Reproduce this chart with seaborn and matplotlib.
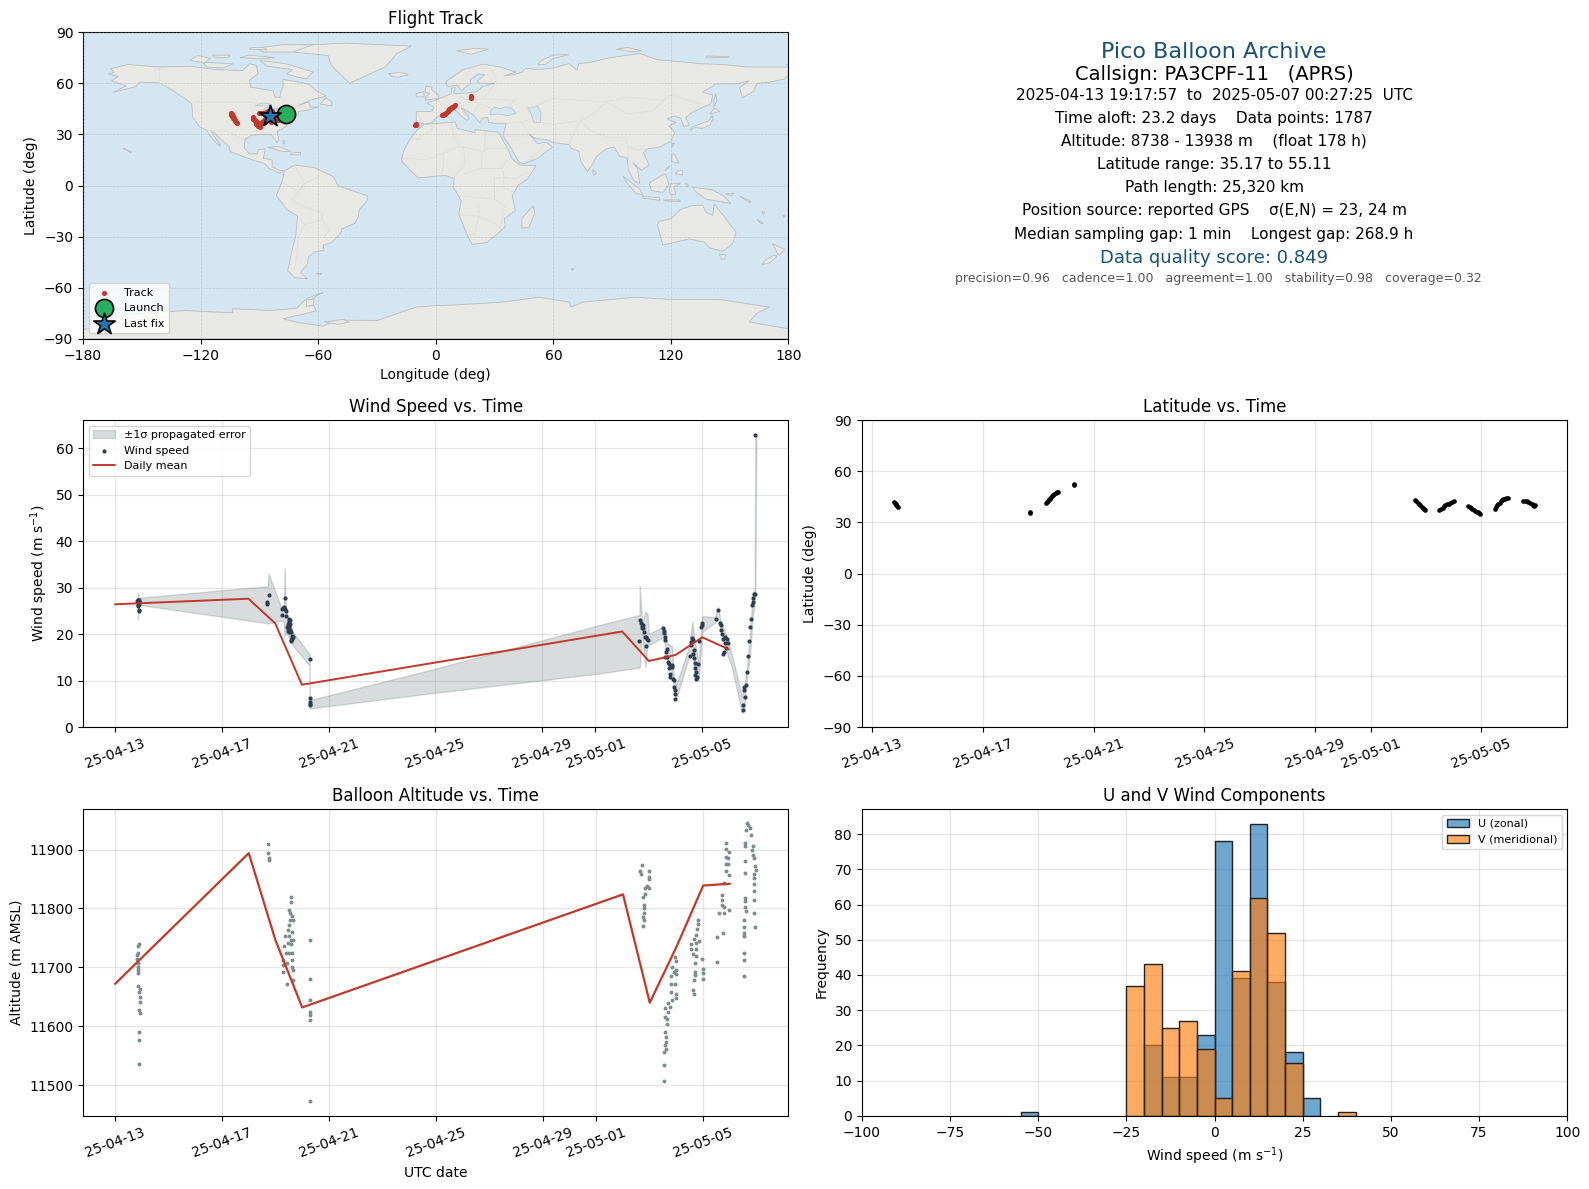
import matplotlib
matplotlib.use("Agg")
import matplotlib.pyplot as plt
import matplotlib.dates as mdates
import seaborn as sns
import numpy as np
import pandas as pd

# --- data, days counted from 2025-04-13 00:00 UTC ---
start = pd.Timestamp("2025-04-13")
tick_dates = ["2025-04-13", "2025-04-17", "2025-04-21", "2025-04-25", "2025-04-29", "2025-05-01", "2025-05-05"]

wind_points = [
    (0.84, 27.0), (0.85, 27.3), (0.87, 27.4), (0.89, 27.3), (0.90, 27.2), (0.86, 26.6), (0.88, 26.8), (0.85, 26.3),
    (0.87, 26.1), (0.89, 26.4), (0.90, 26.9), (0.91, 25.1), (0.90, 24.9),
    (5.75, 28.5), (5.71, 26.8), (5.71, 26.4),
    (6.35, 27.7), (6.29, 25.6), (6.27, 25.3), (6.33, 25.8), (6.36, 25.3), (6.42, 24.9), (6.27, 24.0), (6.40, 23.9),
    (6.50, 23.2), (6.52, 22.7), (6.54, 23.0), (6.48, 22.2), (6.50, 21.9), (6.53, 22.3), (6.55, 22.1), (6.46, 21.5),
    (6.49, 21.2), (6.52, 21.6), (6.56, 20.9), (6.47, 20.7), (6.50, 20.5), (6.58, 20.4), (6.64, 19.5), (6.66, 19.3),
    (6.62, 19.1), (6.60, 18.8), (6.61, 18.4), (6.63, 18.9),
    (7.29, 14.6), (7.29, 6.3), (7.29, 5.4), (7.29, 5.0), (7.29, 4.7),
    (19.67, 23.1), (19.72, 22.3), (19.75, 21.8), (19.73, 21.2), (19.77, 21.9), (19.79, 21.2), (19.81, 20.5),
    (19.87, 19.4), (19.97, 18.8), (19.93, 19.0), (19.90, 19.3), (19.63, 18.5), (19.90, 17.4),
    (20.52, 21.2), (20.56, 20.7), (20.58, 20.3), (20.61, 19.3), (20.61, 18.8),
    (20.68, 16.8), (20.65, 16.2), (20.62, 15.1), (20.68, 15.0), (20.72, 14.0), (20.75, 13.5), (20.85, 13.3),
    (20.77, 12.6), (20.87, 13.0), (20.78, 11.5), (20.81, 10.8), (20.89, 10.4), (20.93, 10.1), (20.94, 8.6),
    (20.97, 7.9), (20.99, 7.2), (20.99, 6.1),
    (21.63, 19.2), (21.59, 18.3), (21.66, 18.7), (21.58, 17.6), (21.68, 16.5), (21.65, 15.8), (21.55, 15.2),
    (21.68, 14.9), (21.72, 13.8), (21.84, 13.6), (21.74, 12.6), (21.78, 11.9), (21.74, 11.2), (21.76, 10.4),
    (21.80, 10.8), (21.89, 18.5), (22.00, 22.3), (21.94, 21.6), (22.00, 21.9),
    (22.52, 23.3), (22.59, 25.1), (22.68, 22.4), (22.72, 21.9), (22.72, 20.8), (22.74, 20.0), (22.77, 19.0),
    (22.87, 19.4), (22.93, 19.0), (22.97, 18.1), (22.84, 18.0), (22.89, 17.1), (22.80, 16.2), (22.78, 15.8),
    (23.53, 4.7), (23.53, 3.7), (23.61, 6.5), (23.57, 8.6), (23.58, 7.9), (23.64, 9.1), (23.68, 11.9), (23.71, 15.3),
    (23.75, 18.4), (23.79, 21.6), (23.83, 23.3), (23.86, 26.2), (23.89, 26.9), (23.91, 27.7), (23.93, 28.7),
    (23.96, 28.7), (23.99, 62.8),
]

# day, low, high of the propagated error band
band_points = [
    (0.84, 26.4, 27.9), (0.86, 23.1, 28.9), (0.88, 26.3, 27.8), (5.72, 22.3, 30.3), (5.75, 22.3, 33.0),
    (6.21, 22.9, 25.9), (6.32, 22.6, 25.9), (6.35, 19.4, 34.2), (6.40, 20.5, 25.0), (6.65, 17.6, 20.5),
    (7.27, 13.3, 15.8), (7.29, 13.3, 15.8), (7.30, 4.0, 5.8), (11.76, 7.2, 12.2), (18.13, 11.5, 21.9),
    (19.65, 12.8, 24.1), (19.66, 12.8, 30.3), (19.75, 20.1, 22.3), (19.87, 12.9, 24.8), (19.95, 18.0, 24.4),
    (20.00, 17.6, 20.1), (20.56, 19.4, 21.6), (20.68, 15.1, 18.0), (20.87, 11.5, 17.4), (20.93, 8.6, 10.8),
    (21.02, 6.0, 9.0), (21.49, 14.8, 17.0), (21.63, 16.5, 22.6), (21.74, 10.5, 17.5), (21.87, 10.0, 14.0),
    (22.00, 20.5, 23.9), (22.49, 22.5, 23.6), (22.59, 23.0, 25.9), (22.68, 21.0, 23.0), (22.93, 15.8, 19.4),
    (23.10, 13.0, 15.8), (23.49, 3.0, 6.5), (23.57, 4.0, 8.7), (23.68, 10.8, 12.9), (23.80, 16.0, 21.0),
    (23.89, 24.0, 29.0), (23.96, 26.0, 29.5), (23.99, 29.0, 63.0), (24.03, 62.7, 62.7),
]

wind_mean_day = [0, 5, 6, 7, 19, 20, 21, 22, 23]
wind_mean = [26.4, 27.6, 22.3, 9.1, 20.55, 14.2, 15.5, 19.3, 16.7]

alt_mean_day = [0, 5, 6, 7, 19, 20, 21, 22, 23]
alt_mean = [11672, 11894, 11746, 11632, 11824, 11640, 11735, 11839, 11842]

alt_points = [
    (0.90, 11739), (0.86, 11736), (0.85, 11725), (0.81, 11721), (0.83, 11714), (0.86, 11707), (0.86, 11701),
    (0.86, 11695), (0.86, 11691), (0.86, 11669), (0.93, 11664), (0.91, 11659), (0.93, 11650), (0.93, 11642),
    (0.88, 11627), (0.93, 11622), (0.88, 11590), (0.88, 11576), (0.88, 11536),
    (5.71, 11910), (5.71, 11895), (5.76, 11886), (5.76, 11882),
    (6.57, 11820), (6.57, 11811), (6.50, 11798), (6.55, 11792), (6.60, 11787), (6.55, 11780), (6.65, 11780),
    (6.52, 11772), (6.47, 11763), (6.62, 11760), (6.52, 11754), (6.37, 11754), (6.67, 11747), (6.57, 11746),
    (6.46, 11741), (6.58, 11739), (6.31, 11736), (6.50, 11724), (6.40, 11724), (6.62, 11724), (6.30, 11712),
    (6.62, 11712), (6.43, 11708), (6.30, 11704), (6.60, 11701), (6.28, 11693), (6.65, 11695), (6.65, 11679),
    (6.43, 11671),
    (7.28, 11746), (7.28, 11680), (7.28, 11644), (7.28, 11624), (7.28, 11619), (7.28, 11610), (7.28, 11473),
    (19.71, 11873), (19.63, 11864), (19.68, 11858), (19.96, 11863), (19.96, 11854), (19.98, 11850), (19.91, 11839),
    (19.83, 11835), (19.97, 11835), (19.81, 11824), (19.73, 11819), (19.77, 11806), (19.77, 11800), (19.80, 11792),
    (19.75, 11785), (19.79, 11780), (19.75, 11771),
    (20.94, 11718), (20.99, 11711), (20.85, 11701), (20.97, 11695), (20.90, 11692), (20.97, 11689), (20.81, 11686),
    (20.81, 11672), (20.93, 11672), (20.78, 11659), (20.99, 11654), (20.97, 11648), (20.85, 11645), (20.68, 11639),
    (20.58, 11631), (20.74, 11632), (20.68, 11624), (20.58, 11616), (20.65, 11612), (20.65, 11604), (20.58, 11591),
    (20.59, 11582), (20.59, 11574), (20.56, 11568), (20.60, 11561), (20.53, 11556), (20.53, 11534), (20.53, 11507),
    (21.82, 11780), (21.81, 11773), (21.77, 11766), (21.74, 11755), (21.84, 11745), (21.66, 11749), (21.56, 11740),
    (21.72, 11741), (21.56, 11732), (21.74, 11732), (21.60, 11723), (21.72, 11719), (21.68, 11707), (21.95, 11715),
    (21.70, 11693), (21.99, 11698), (21.69, 11687), (21.99, 11690), (21.66, 11678), (21.99, 11680), (21.63, 11662),
    (21.65, 11654),
    (22.85, 11912), (22.84, 11901), (22.96, 11896), (22.84, 11888), (22.94, 11886), (22.87, 11876), (22.93, 11876),
    (22.87, 11864), (22.96, 11857), (22.78, 11844), (22.70, 11823), (22.70, 11815), (22.70, 11806), (22.77, 11802),
    (22.97, 11797), (22.59, 11793), (22.77, 11793), (22.52, 11751), (22.74, 11758), (22.52, 11709),
    (23.64, 11945), (23.68, 11941), (23.74, 11936), (23.59, 11934), (23.79, 11925), (23.57, 11911), (23.57, 11906),
    (23.86, 11906), (23.83, 11900), (23.88, 11890), (23.91, 11885), (23.57, 11880), (23.95, 11872), (23.99, 11866),
    (23.57, 11861), (23.90, 11858), (23.90, 11851), (23.90, 11842), (23.90, 11830), (23.90, 11815), (23.58, 11818),
    (23.58, 11812), (23.58, 11803), (23.61, 11796), (23.91, 11792), (23.53, 11780), (23.53, 11769), (23.53, 11758),
    (23.53, 11753), (23.94, 11768), (23.53, 11725), (23.53, 11713), (23.53, 11686),
]

lat_points = [
    (0.78, 41.9), (0.81, 41.3), (0.84, 40.8), (0.87, 40.2), (0.90, 39.6), (0.94, 38.9),
    (5.70, 35.7), (5.71, 36.1),
    (6.26, 41.3), (6.30, 42.0), (6.34, 42.8), (6.38, 43.5), (6.42, 44.0), (6.46, 44.8), (6.50, 45.4), (6.54, 46.0),
    (6.58, 46.6), (6.62, 47.2), (6.66, 47.6), (6.70, 47.8),
    (7.28, 52.5), (7.29, 52.0),
    (19.60, 43.2), (19.65, 42.4), (19.70, 41.6), (19.75, 40.8), (19.80, 40.0), (19.85, 39.2), (19.90, 38.4),
    (19.94, 37.8), (19.97, 37.3),
    (20.49, 37.3), (20.55, 38.0), (20.60, 38.6), (20.65, 39.4), (20.70, 40.0), (20.76, 40.6), (20.82, 41.1),
    (20.88, 41.6), (20.94, 42.2), (21.00, 42.8),
    (21.53, 39.9), (21.58, 39.2), (21.63, 38.4), (21.68, 37.8), (21.73, 37.3), (21.78, 36.8), (21.83, 36.3),
    (21.88, 35.9), (21.92, 35.5), (21.96, 35.2),
    (22.50, 37.9), (22.54, 39.0), (22.58, 40.0), (22.62, 40.9), (22.66, 41.7), (22.70, 42.5), (22.75, 43.1),
    (22.80, 43.6), (22.85, 44.0), (22.90, 44.3), (22.96, 44.6),
    (23.52, 42.8), (23.58, 42.7), (23.64, 42.5), (23.70, 42.0), (23.76, 41.5), (23.82, 40.8), (23.88, 40.0),
    (23.92, 39.6), (23.95, 40.4),
]

track_points = [
    (-104.6, 42.4), (-104.3, 41.6), (-104.0, 42.0), (-103.8, 40.8), (-103.4, 40.6), (-103.3, 39.8), (-102.9, 39.6),
    (-102.8, 38.8), (-102.4, 38.6), (-102.2, 37.6), (-101.7, 37.4), (-101.6, 36.8),
    (-93.3, 40.1), (-93.3, 39.0), (-92.6, 39.2), (-92.4, 37.6), (-91.8, 38.0), (-91.6, 36.2), (-90.8, 36.5), (-90.5, 34.8),
    (-89.5, 34.4), (-89.3, 36.0), (-88.8, 37.4), (-88.2, 38.1), (-87.3, 37.2), (-90.2, 42.4), (-89.3, 42.4), (-88.0, 42.8),
    (-86.8, 43.2), (-85.8, 43.9), (-83.5, 43.9), (-82.5, 42.0), (-81.2, 39.1), (-80.5, 38.2), (-87.0, 39.0), (-84.0, 37.5),
    (-10.6, 35.6), (-10.3, 35.8), (-10.0, 35.5),
    (3.2, 41.1), (3.9, 41.5), (4.4, 41.9), (4.8, 42.0), (5.2, 42.8), (5.6, 43.0), (6.0, 43.7), (6.4, 44.0), (6.8, 44.6),
    (7.2, 44.8), (7.6, 45.4), (8.0, 45.6), (8.4, 46.0), (8.8, 46.2), (9.2, 46.8), (9.8, 47.1),
    (18.2, 51.6), (18.2, 52.2), (18.2, 52.8),
]
launch_lon, launch_lat = -76.5, 41.7
last_lon, last_lat = -84.7, 40.5

hist_edges = list(range(-55, 45, 5))
u_counts = [1, 0, 0, 0, 0, 0, 0, 20, 11, 11, 23, 78, 39, 83, 38, 18, 5, 0, 0]
v_counts = [0, 0, 0, 0, 0, 0, 37, 43, 25, 27, 19, 5, 41, 62, 52, 15, 0, 0, 1]

summary_lines = [
    ("Pico Balloon Archive", 16, "#1a5276", 51.9),
    ("Callsign: PA3CPF-11   (APRS)", 14, "black", 74.2),
    ("2025-04-13 19:17:57  to  2025-05-07 00:27:25  UTC", 11, "black", 95.4),
    ("Time aloft: 23.2 days    Data points: 1787", 11, "black", 118.7),
    ("Altitude: 8738 - 13938 m    (float 178 h)", 11, "black", 141.0),
    ("Latitude range: 35.17 to 55.11", 11, "black", 164.2),
    ("Path length: 25,320 km", 11, "black", 187.7),
    ("Position source: reported GPS    σ(E,N) = 23, 24 m", 11, "black", 211.0),
    ("Median sampling gap: 1 min    Longest gap: 268.9 h", 11, "black", 234.2),
    ("Data quality score: 0.849", 13, "#1a5276", 258.6),
    ("precision=0.96   cadence=1.00   agreement=1.00   stability=0.98   coverage=0.32", 9, "#555555", 278.9),
]

# coarse land outlines (lon, lat)
north_america = [
    (-167, 65.5), (-164, 66.5), (-166, 68.5), (-157, 71), (-141, 69.5), (-126, 70), (-112, 68), (-98.5, 67.5),
    (-95, 71.4), (-91.5, 70.5), (-90.7, 65.6), (-95, 61.7), (-94.4, 57.8), (-88, 56.5), (-83, 55.5), (-82, 52),
    (-79.6, 51.7), (-79, 55), (-77.9, 57.8), (-78, 62.3), (-70, 60.7), (-65, 59.5), (-60, 54.8), (-55.8, 52.5),
    (-64.3, 50), (-70, 47), (-65, 49), (-64, 46), (-60, 46), (-66, 44), (-70, 43.5), (-70, 41.5), (-74, 40.5),
    (-75.5, 37.5), (-76, 35), (-81, 31.5), (-80, 26.5), (-81, 25), (-82.7, 28), (-84, 30), (-89, 30), (-94, 29.5),
    (-97.3, 27), (-97.7, 22), (-95, 18.5), (-91, 18.7), (-90.5, 21), (-87, 21.5), (-88, 16), (-83.5, 15),
    (-83.5, 11), (-80, 9), (-77.3, 8.5), (-80, 7.3), (-85, 10), (-87.5, 13), (-92, 14.5), (-96, 16), (-105, 20),
    (-105.5, 23), (-110, 27.5), (-113, 31), (-114.7, 31.7), (-112, 27), (-109.5, 23), (-112, 25), (-115, 29),
    (-117, 32.5), (-120.5, 34.5), (-124, 40), (-124.5, 48), (-128, 50.9), (-133.2, 55), (-140.9, 60.2), (-151, 60.7),
    (-153, 58), (-164.7, 54.6), (-158, 58.5), (-165.5, 61.5), (-162, 64),
]
south_america = [
    (-77.3, 8.5), (-72, 12), (-62, 10.5), (-52, 5), (-50, 0), (-44, -2.5), (-34.9, -6), (-35, -9), (-39, -14),
    (-39.5, -18), (-41, -22), (-48, -25.5), (-48.5, -28), (-53.3, -33.5), (-57.5, -35), (-57, -38), (-62, -39),
    (-65, -42), (-65.5, -46), (-69, -51), (-65.5, -54.8), (-72, -54), (-75.5, -50), (-73.7, -40), (-71.5, -30), (-70.5, -18),
    (-76, -14), (-81.3, -6), (-80, -2), (-78.5, 2), (-77.5, 7),
]
africa = [
    (-6, 35.8), (10, 37.3), (11, 33.5), (20, 31), (20, 32.8), (32, 31.3), (33.5, 28), (37, 21), (39, 15.5), (43, 12),
    (51.1, 11.8), (47, 4), (42, 0), (39, -6), (40.6, -14.7), (35, -19.5), (35.5, -24), (32.4, -27.4), (26, -33.5), (18.5, -34.5),
    (15.4, -27.4), (11.7, -16.6), (13, -9), (8.8, -0.5), (9.5, 4), (5, 6), (-4, 5), (-9, 4.5), (-13, 9), (-17.6, 14.5),
    (-16.5, 20), (-13, 27.5), (-9.9, 32),
]
eurasia = [
    (-9.9, 37.2), (-6, 36), (-2, 36.8), (0, 39.5), (3.3, 42), (7, 43.5), (10.3, 44), (13, 41), (16, 38.2), (17, 40),
    (13, 45.5), (15, 44.5), (19.5, 41), (22.5, 36.8), (24, 39.5), (26.5, 40), (27, 37), (30.5, 36.4), (36, 36.5),
    (35, 32.4), (34.2, 28.5), (35, 28), (39, 21), (42.6, 13.5), (45, 12.8), (52, 16), (59.6, 22.6), (56.3, 25.5),
    (52, 24.5), (47.7, 30), (51, 27.5), (56.5, 27), (61, 25), (68, 24), (69, 22), (73, 20), (74, 14), (77.5, 8.2),
    (80, 12.5), (82, 17), (87, 21.5), (91, 22.6), (94, 17), (97.5, 16.5), (98.5, 8.5), (101, 3), (104, 1.3),
    (103, 9.9), (100.5, 13.5), (105, 9), (109, 12), (106, 19), (108, 21.5), (114, 22.5), (120, 26), (122, 31),
    (119, 35), (122.6, 37), (118, 39), (121.5, 40.8), (125, 39.5), (126.5, 34.7), (129.5, 35.5), (127.5, 40),
    (131, 43), (140.4, 48), (141.3, 53), (136, 54.8), (143, 59.5), (154, 59.7), (160, 61.5), (155, 57.5),
    (156.6, 51.5), (162, 55), (164, 60), (170, 60.5), (178, 62.5), (180, 65), (180, 69.5), (170, 69.5), (160, 69.5),
    (146, 71), (135, 71.5), (126, 72.5), (113, 73.8), (104, 77.5), (95, 76), (87, 74.5), (80, 72.5), (73, 71.5),
    (72, 67.5), (68, 71.5), (60, 69), (52, 68), (46, 68.8), (44, 66.5), (40, 65), (35, 64.5), (41, 66.5), (33, 69.5),
    (24, 71.2), (14, 68), (5.2, 61), (6, 58), (11, 59), (13, 55.5), (18, 60), (17.5, 62), (22, 65.5), (25, 65),
    (21, 61), (23, 60), (30, 60), (24, 58), (21, 55), (14, 54), (9, 54), (10, 57.5), (8, 57), (8, 54), (4, 52),
    (-1.5, 49.5), (-4.5, 48.5), (-1, 46), (-2, 43.5), (-9.9, 43.3),
]
australia = [
    (113.2, -23.4), (114, -21), (120, -19.5), (125, -14), (131, -11.7), (136.2, -11.5), (137.9, -15.6), (141.3, -17.6),
    (142.1, -10.9), (148.1, -19.5), (153.2, -27.4), (151.5, -34.2), (146.4, -38.6), (139.6, -36.5), (137, -33.2),
    (129.4, -31.3), (122.6, -33.2), (115.8, -34.8), (114, -27),
]
antarctica = [
    (-180, -84.2), (-176, -84), (-170, -80), (-160, -76), (-135.4, -73.9), (-127.3, -73.3), (-118.8, -73.9),
    (-103.5, -74.6), (-103.8, -72.3), (-95, -72.7), (-84.7, -73.3), (-76, -72.5), (-71, -72), (-68, -68.5), (-66, -66.5),
    (-62, -64.5), (-57.5, -62.9), (-60, -64), (-62.5, -66), (-64, -68), (-62, -71), (-60.9, -73.5), (-66, -75),
    (-77.9, -78.2), (-69.4, -80.5), (-57.5, -82.5), (-54, -80.5), (-45, -79), (-35.4, -79.1), (-29.5, -79.1),
    (-16.7, -73.9), (-9.9, -71.3), (0, -70.5), (10.3, -70), (34.1, -68.4), (52.8, -65.5), (68.1, -68.4), (69, -71.3),
    (75, -68.4), (102, -65.5), (119, -66.8), (144.7, -66.8), (170.2, -71.3), (163.4, -75.2), (160, -80.1), (180, -84),
    (180, -90), (-180, -90),
]
islands = [
    [(-72.8, 78.3), (-71, 82.2), (-45.6, 83.5), (-12.4, 81.8), (-20, 77.3), (-23.5, 72.4), (-26, 69.5), (-43.9, 60),
     (-49, 65.6), (-53.3, 70.5), (-55, 76.3)],
    [(-89.8, 73.4), (-76.2, 71.4), (-62.6, 66.6), (-66, 62.5), (-72, 64), (-76.2, 65.6), (-73, 68), (-86, 70)],
    [(-118.8, 72.4), (-103.5, 71.4), (-108.6, 68.9), (-117, 69.5)],
    [(-91.5, 80.6), (-78, 82.6), (-62.6, 82.6), (-72.8, 78.3), (-88, 78.3)],
    [(-125.6, 73.4), (-118, 72), (-115, 74.5), (-121.3, 76.3)],
    [(-100, 75), (-90, 74.5), (-82, 75), (-95, 76.5)],
    [(-112, 75), (-106, 75), (-105, 76.5), (-114, 76.5)],
    [(-95, 80), (-86, 79.5), (-88, 81), (-94, 81)],
    [(-59, 47.8), (-53, 46.8), (-53, 49), (-56, 51.5)],
    [(-85.6, 22.3), (-80, 23), (-74, 20), (-78, 20)],
    [(-74, 19), (-69, 19.5), (-69, 18), (-74, 18)],
    [(-5.5, 50), (1.5, 51.2), (1.5, 53), (-2, 56), (-2, 57.7), (-5, 58.5), (-5.5, 55), (-3, 54), (-5, 52)],
    [(-10, 52), (-6, 52), (-6, 55), (-10, 54)],
    [(-24, 65.5), (-18, 66.5), (-14, 65), (-19, 63.5), (-22.5, 64)],
    [(10.5, 79), (20, 80.5), (27, 80), (18, 77)],
    [(52, 71), (56, 71), (60, 74.5), (68, 76.8), (60, 76.5), (54, 73.5)],
    [(92, 80), (100, 78.5), (105, 79), (98, 81)],
    [(138, 75), (148, 75), (150, 75.5), (138, 76)],
    [(178, 71), (180, 71), (180, 71.5), (178, 71.5)],
    [(142, 46), (143.5, 50), (142.8, 54), (142, 50)],
    [(129.7, 32.4), (132, 34), (136, 33.5), (140, 35.5), (141.6, 39.5), (141, 41.2), (139.5, 38), (136, 36.5), (131, 34.5)],
    [(140, 42), (145, 43.5), (142, 45.5)],
    [(120.5, 22.5), (122, 25), (120.5, 24.5)],
    [(80, 9.5), (82, 7), (80.5, 6)],
    [(120.5, 18.5), (122, 18), (124, 13), (120.5, 14)],
    [(122, 7), (126, 6), (126, 9), (123.5, 8.5)],
    [(118, 10), (119.5, 11.5), (117, 8.5)],
    [(95.5, 5.5), (104, -2), (106, -5.8), (102, -4.5), (98, 1)],
    [(105.5, -6.5), (114, -7), (114.5, -8.7), (106, -7.5)],
    [(116, -8.5), (124, -8.5), (125, -9.5), (117, -9)],
    [(109, 1.5), (117, 7), (119, 1), (116, -4), (110, -3)],
    [(120, 1), (125, 1.5), (121.5, -1), (122.5, -5), (120, -5.5), (119, -3)],
    [(127.5, 1.5), (129, 0), (128, -1)],
    [(131, -1), (141, -2.5), (147, -6), (150.5, -10.5), (143, -9), (138, -8), (133, -4)],
    [(148, -5), (152, -4.5), (151, -6)],
    [(155, -6), (161, -9.5), (160, -10)],
    [(166.5, -15), (168, -16), (167, -17)],
    [(164, -20), (167, -22), (166, -22.5)],
    [(177.5, -17.5), (178.5, -18), (177.5, -18.5)],
    [(144.7, -40.4), (148, -40.4), (147.5, -43.2), (146, -43.2)],
    [(171.9, -34.2), (177.9, -37.5), (175.3, -41), (174, -39)],
    [(172.7, -40.7), (174, -41.7), (170.2, -45.5), (166.5, -46.3), (168.5, -43.5)],
    [(49.8, -12.1), (50.5, -16), (47.5, -24.7), (44, -25), (44, -19), (48, -14)],
    [(-61, -51.5), (-58, -51.5), (-59, -52.3)],
    [(69, -48.8), (70.5, -49), (69.5, -49.6)],
    [(-159.6, 21.8), (-155.3, 19.8), (-155.6, 19.2), (-158, 21)],
    [(-78, 26.5), (-77, 26), (-77.5, 24)],
    [(-66, -67.2), (-62, -66.4), (-62.5, -70), (-66, -71)],
    [(-57, -80), (-47, -78.5), (-44, -80), (-50, -81.5)],
]
lakes = [
    [(28, 41.5), (28, 44), (30, 46), (33, 45), (35, 46), (38, 46), (41, 42.5), (37, 41), (32, 42)],
    [(47, 45.5), (52, 46.5), (53.7, 43), (53.5, 37), (50, 37), (49, 41)],
    [(-92, 46.7), (-85, 46.8), (-85, 48), (-89, 48.5)],
    [(-88, 42), (-85.5, 42), (-85, 45.7), (-87.5, 45.5)],
    [(-84, 43.5), (-81.5, 43.5), (-80.5, 45), (-84, 46)],
    [(-83, 41.7), (-79, 42.7), (-79, 43), (-83, 42.5)],
]
borders = [
    [(-141, 69.7), (-141, 60), (-133, 56)], [(-123, 49), (-95, 49), (-84, 46), (-75, 45), (-67, 47)],
    [(-117, 32.5), (-106, 31.7), (-97, 26)], [(-92, 14.5), (-91, 18)], [(-72, 12), (-67, 1), (-70, -4), (-74, -8), (-70, -11), (-58, -16), (-58, -20), (-54, -26), (-57, -30), (-53.5, -34)],
    [(-78, 2), (-70, -4)], [(-60, 5), (-67, 1)], [(-70, -18), (-67, -23), (-70, -30), (-72, -50)], [(-67, -23), (-58, -20)],
    [(-13, 27.5), (-8, 27), (-8, 29), (-2, 32), (-2, 35)], [(8, 37), (9, 30), (12, 23), (25, 20), (25, 31.5)],
    [(25, 22), (37, 22)], [(-16.5, 16), (-5, 15), (4, 19), (12, 23)], [(4, 19), (4, 12), (3, 6.5)], [(14, 23), (15, 13), (9, 4.5)],
    [(24, 20), (23, 10), (15, 7)], [(23, 10), (34, 10), (36, 15)], [(34, 10), (35, 5), (41, 4), (47, 8)], [(30, 4), (30, -8), (12, -6)],
    [(30, 4), (35, 5), (34, -1), (40, -4)], [(22, -11), (22, -18), (12, -17)], [(22, -18), (20, -28), (17, -29)], [(30, -8), (35, -12), (33, -25)],
    [(22, -18), (30, -22), (33, -25)], [(28, 69), (31, 62), (28, 56), (24, 51), (40, 50), (38, 47)], [(48, 42), (47, 45), (60, 51), (87, 49), (98, 52), (116, 50), (120, 53), (135, 48), (131, 43)],
    [(87, 49), (80, 42), (74, 38), (61, 36), (53, 37)], [(74, 38), (78, 33), (88, 28), (97, 28), (98, 23), (102, 21), (108, 21.5)], [(98, 23), (98.5, 9)], [(87, 49), (98, 42), (111, 44), (116, 50)],
    [(61, 36), (61, 25)], [(74, 38), (70, 30), (68, 23.5)], [(36, 36.5), (44, 37), (48, 30)], [(44, 37), (48, 39)], [(45, 13), (52, 19), (56, 25)],
    [(35, 29), (46, 29), (48, 29.5)], [(19, 42), (22, 48), (15, 51), (9, 54)], [(7, 43.5), (7, 48), (6, 51), (4, 52)], [(-2, 43.5), (3, 42)], [(-9, 42), (-7, 37)], [(24, 51), (14, 51)], [(22, 48), (29, 45)],
    [(13, 55.5), (12, 59), (18, 69)], [(18, 69), (28, 69)],
]


def to_dates(days):
    return start + pd.to_timedelta(np.asarray(days, dtype=float), unit="D")


sns.set_style("white")
plt.rcParams.update({"xtick.bottom": True, "ytick.left": True, "axes.edgecolor": "black", "text.color": "black",
                     "axes.labelcolor": "black", "xtick.color": "black", "ytick.color": "black",
                     "font.family": ["DejaVu Sans"]})

fig, axes = plt.subplots(3, 2, figsize=(15.89, 11.89), dpi=100)
fig.subplots_adjust(left=83 / 1589, right=1567.3 / 1589, top=1 - 31.4 / 1189, bottom=1 - 1115.8 / 1189,
                    wspace=0.1039, hspace=0.267)
ax_map, ax_txt = axes[0]
ax_wind, ax_lat = axes[1]
ax_alt, ax_hist = axes[2]

# top-left panel sits a little lower than the grid gives
pos = ax_map.get_position()
ax_map.set_position([pos.x0, pos.y0 - 0.7 / 1189, pos.width, pos.height])

line_color = "#c0392b"

# --- map ---
ax_map.set_facecolor("#d4e6f1")
for poly in [north_america, south_america, africa, eurasia, australia, antarctica] + islands:
    lon, lat = zip(*poly)
    ax_map.fill(lon, lat, facecolor="#e8e8e4", edgecolor="#b9bec2", linewidth=0.6, zorder=1)
for poly in lakes:
    lon, lat = zip(*poly)
    ax_map.fill(lon, lat, facecolor="#d4e6f1", edgecolor="#b9bec2", linewidth=0.5, zorder=1.1)
for seg in borders:
    lon, lat = zip(*seg)
    ax_map.plot(lon, lat, color="#dcdddb", linewidth=0.5, zorder=1.2)
track_lon, track_lat = zip(*track_points)
sns.scatterplot(x=track_lon, y=track_lat, s=14, color=line_color, linewidth=0, zorder=3, label="Track", ax=ax_map)
ax_map.scatter(launch_lon, launch_lat, s=170, color="#27ae60", edgecolor="black", linewidth=1.2, zorder=4, label="Launch")
ax_map.scatter(last_lon, last_lat, s=260, marker="*", color="#1f77b4", edgecolor="black", linewidth=1.2, zorder=5, label="Last fix")
ax_map.set_xlim(-180, 180)
ax_map.set_ylim(-90, 90)
ax_map.set_xticks(np.arange(-180, 181, 60))
ax_map.set_yticks(np.arange(-90, 91, 30))
ax_map.grid(True, color="#999999", alpha=0.35, linewidth=0.5, linestyle="--", zorder=2)
ax_map.set_axisbelow(False)
ax_map.set_xlabel("Longitude (deg)")
ax_map.set_ylabel("Latitude (deg)")
ax_map.set_title("Flight Track", fontsize=12)
ax_map.legend(loc="lower left", fontsize=8)

# --- summary text ---
ax_txt.axis("off")
for text, size, color, ypix in summary_lines:
    xoff = 3.5 if size == 9 else -0.5
    ax_txt.text(0.5 + xoff / 705.5, (338.5 - ypix) / 307.1, text, fontsize=size, color=color, ha="center", va="center",
                transform=ax_txt.transAxes)

# --- wind speed ---
band_day, band_low, band_high = zip(*band_points)
ax_wind.fill_between(to_dates(band_day), band_low, band_high, color="#7f8c8d", alpha=0.3, label="±1σ propagated error")
wind_day, wind_speed = zip(*wind_points)
sns.scatterplot(x=to_dates(wind_day), y=wind_speed, s=9, color="#2c3e50", linewidth=0, zorder=3, label="Wind speed", ax=ax_wind)
sns.lineplot(x=to_dates(wind_mean_day), y=wind_mean, color=line_color, linewidth=1.4, zorder=4, label="Daily mean", ax=ax_wind)
ax_wind.set_ylim(0, 66)
ax_wind.set_ylabel("Wind speed (m s$^{-1}$)")
ax_wind.set_title("Wind Speed vs. Time", fontsize=12)
ax_wind.legend(loc="upper left", fontsize=8)

# --- latitude ---
lat_day, lat_val = zip(*lat_points)
sns.scatterplot(x=to_dates(lat_day), y=lat_val, s=11, color="black", linewidth=0, ax=ax_lat)
ax_lat.set_ylim(-90, 90)
ax_lat.set_yticks(np.arange(-90, 91, 30))
ax_lat.set_ylabel("Latitude (deg)")
ax_lat.set_title("Latitude vs. Time", fontsize=12)

# --- altitude ---
alt_day, alt_val = zip(*alt_points)
sns.scatterplot(x=to_dates(alt_day), y=alt_val, s=8, color="#7f8c8d", linewidth=0, ax=ax_alt)
sns.lineplot(x=to_dates(alt_mean_day), y=alt_mean, color=line_color, linewidth=1.6, zorder=4, ax=ax_alt)
ax_alt.set_ylim(11448, 11969)
ax_alt.set_yticks([11500, 11600, 11700, 11800, 11900])
ax_alt.set_ylabel("Altitude (m AMSL)")
ax_alt.set_xlabel("UTC date")
ax_alt.set_title("Balloon Altitude vs. Time", fontsize=12)

for ax in (ax_wind, ax_lat, ax_alt):
    ax.set_xticks(pd.to_datetime(tick_dates))
    ax.xaxis.set_major_formatter(mdates.DateFormatter("%y-%m-%d"))
    ax.tick_params(axis="x", rotation=20)
    ax.grid(True, color="#b0b0b0", alpha=0.3, linewidth=1.0)
    ax.set_axisbelow(True)
ax_wind.set_xlabel("")
ax_lat.set_xlabel("")

# --- histogram ---
hist_centers = [edge + 2.5 for edge in hist_edges[:-1]]
sns.histplot(x=hist_centers, weights=u_counts, bins=hist_edges, color="#1f77b4", alpha=0.65, edgecolor="#222222",
             linewidth=1.0, label="U (zonal)", ax=ax_hist)
sns.histplot(x=hist_centers, weights=v_counts, bins=hist_edges, color="#ff7f0e", alpha=0.65, edgecolor="#222222",
             linewidth=1.0, label="V (meridional)", ax=ax_hist)
ax_hist.set_xlim(-100, 100)
ax_hist.set_xlabel("Wind speed (m s$^{-1}$)")
ax_hist.set_ylabel("Frequency")
ax_hist.set_title("U and V Wind Components", fontsize=12)
ax_hist.grid(True, color="#b0b0b0", alpha=0.3, linewidth=1.0)
ax_hist.set_axisbelow(True)
ax_hist.legend(loc="upper right", fontsize=8)
# empty bins would draw a line along the axis, hide them once the legend has its handles
for patch in ax_hist.patches:
    if patch.get_height() == 0:
        patch.set_visible(False)

fig.savefig("out.png", dpi=100)
